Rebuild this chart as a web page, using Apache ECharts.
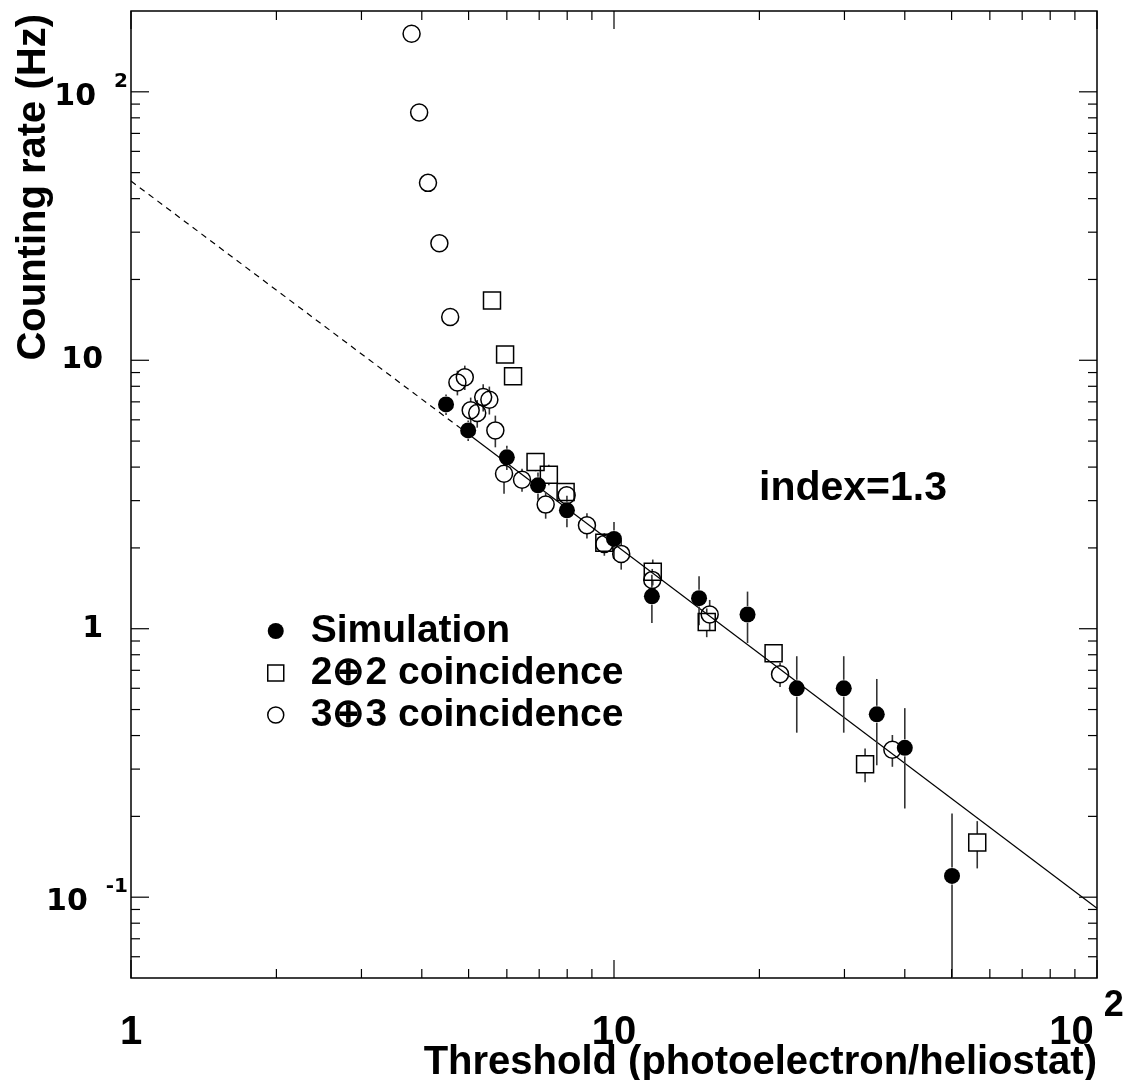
<!DOCTYPE html>
<html><head><meta charset="utf-8">
<script src="https://cdn.jsdelivr.net/npm/echarts@6/dist/echarts.min.js"></script>
<style>html,body{margin:0;padding:0;background:#fff}#c{width:1148px;height:1080px}</style>
</head><body><div id="c"></div>
<script>
// ---- data ----
const simX = [4.49, 4.99, 6.0, 6.96, 7.99, 10.0, 11.98, 15.0, 18.9, 23.9, 29.9, 35.0, 40.0, 50.1];
const simY = [6.85, 5.48, 4.35, 3.42, 2.76, 2.16, 1.32, 1.30, 1.13, 0.60, 0.60, 0.48, 0.36, 0.12];
const simErr = [0.6, 0.48, 0.45, 0.4, 0.37, 0.34, 0.27, 0.27, 0.245, 0.19, 0.19, 0.17, 0.146, 0.085];

const c22X = [5.59, 5.95, 6.18, 6.88, 7.33, 7.94, 9.55, 12.03, 15.56, 21.4, 33.1, 56.5];
const c22Y = [16.7, 10.5, 8.71, 4.18, 3.75, 3.23, 2.09, 1.63, 1.06, 0.81, 0.313, 0.160];
const c22Err = [0.5, 0.35, 0.3, 0.32, 0.33, 0.2, 0.12, 0.18, 0.13, 0.04, 0.045, 0.032];

const c33X = [3.81, 3.95, 4.12, 4.35, 4.58, 4.74, 4.91, 5.05, 5.21, 5.36, 5.52, 5.68, 5.92, 6.45, 7.22, 7.98, 8.79, 9.55, 10.35, 12.0, 15.78, 22.07, 37.7];
const c33Y = [164.6, 83.7, 45.8, 27.3, 14.5, 8.27, 8.65, 6.51, 6.36, 7.29, 7.13, 5.48, 3.78, 3.59, 2.90, 3.14, 2.43, 2.07, 1.90, 1.52, 1.13, 0.677, 0.354];
const c33Err = [1, 0.8, 0.5, 0.4, 1.0, 0.87, 0.9, 0.75, 0.75, 0.85, 0.85, 0.74, 0.6, 0.35, 0.33, 0.25, 0.26, 0.2, 0.24, 0.15, 0.15, 0.07, 0.048];

const fitDashed = [[1, 46.5], [5, 5.3]];
const fitSolid = [[5, 5.3], [100, 0.091]];

const xMin = 1, xMax = 100, yMin = 0.05, yMax = 200;
const xMinorTicks = [2,3,4,5,6,7,8,9,20,30,40,50,60,70,80,90];
const xMajorTicks = [1,10,100];
const yMinorTicks = [0.06,0.07,0.08,0.09,0.2,0.3,0.4,0.5,0.6,0.7,0.8,0.9,2,3,4,5,6,7,8,9,20,30,40,50,60,70,80,90];
const yMajorTicks = [0.1,1,10,100];

const legendNames = ['Simulation', '2\u22952 coincidence', '3\u22953 coincidence'];
const xTitle = 'Threshold (photoelectron/heliostat)';
const yTitle = 'Counting rate (Hz)';
const indexText = 'index=1.3';

// ---- helpers ----
const MARK_R = 8.5;
function isPow10(v){ const e = Math.round(Math.log10(v)); return Math.abs(v/Math.pow(10,e) - 1) < 1e-6 ? e : null; }

function errData(xs, ys, es){ return xs.map((x,i)=>[x, ys[i], es[i]]); }
function errRender(params, api){
  const x = api.value(0), y = api.value(1), e = api.value(2);
  const c = api.coord([x, y]);
  const lo = api.coord([x, Math.max(y - e, yMin)]);
  const hi = api.coord([x, Math.min(y + e, yMax)]);
  const st = {stroke:'#333', lineWidth:1.6};
  const kids = [];
  if (hi[1] < c[1] - MARK_R) kids.push({type:'line', shape:{x1:c[0], y1:c[1] - MARK_R, x2:hi[0], y2:hi[1]}, style:st});
  if (lo[1] > c[1] + MARK_R) kids.push({type:'line', shape:{x1:c[0], y1:c[1] + MARK_R, x2:lo[0], y2:lo[1]}, style:st});
  return {type:'group', children:kids};
}
const tickData = [];
xMinorTicks.forEach(v=>tickData.push([v, yMin, 0]));
xMajorTicks.forEach(v=>tickData.push([v, yMin, 1]));
yMinorTicks.forEach(v=>tickData.push([xMin, v, 2]));
yMajorTicks.forEach(v=>tickData.push([xMin, v, 3]));
function tickRender(params, api){
  const cs = params.coordSys;
  const kind = api.value(2);
  const p = api.coord([api.value(0), api.value(1)]);
  const len = (kind === 1 || kind === 3) ? 18 : 9;
  const st = {stroke:'#000', lineWidth:1.2};
  if (kind < 2) {
    const b = cs.y + cs.height, t = cs.y;
    return {type:'group', children:[
      {type:'line', shape:{x1:p[0], y1:b, x2:p[0], y2:b - len}, style:st},
      {type:'line', shape:{x1:p[0], y1:t, x2:p[0], y2:t + len}, style:st}
    ]};
  } else {
    const l = cs.x, r = cs.x + cs.width;
    return {type:'group', children:[
      {type:'line', shape:{x1:l, y1:p[1], x2:l + len, y2:p[1]}, style:st},
      {type:'line', shape:{x1:r, y1:p[1], x2:r - len, y2:p[1]}, style:st}
    ]};
  }
}

const LS = 'Liberation Sans', DV = 'DejaVu Sans';
const hollow = {color:'rgba(0,0,0,0)', borderColor:'#000', borderWidth:1.5, opacity:1};

const chart = echarts.init(document.getElementById('c'), null, {renderer:'canvas'});
chart.setOption({
  animation:false,
  backgroundColor:'#fff',
  grid:{left:131, right:51, top:11, bottom:102, show:true, borderColor:'#000', borderWidth:1.5, backgroundColor:'transparent'},
  xAxis:{
    type:'log', logBase:10, min:xMin, max:xMax,
    axisLine:{show:false}, axisTick:{show:false}, splitLine:{show:false}, minorTick:{show:false},
    axisLabel:{
      margin:3, showMinLabel:true, showMaxLabel:true,
      formatter:function(v){
        const e = isPow10(v); if (e === null) return '';
        if (e === 0) return '{n|1}';
        if (e === 1) return '{n|10}';
        return '{n|10}{s|' + e + '}';
      },
      rich:{
        n:{fontFamily:LS, fontWeight:'bold', fontSize:40, lineHeight:72, verticalAlign:'bottom', color:'#000'},
        s:{fontFamily:LS, fontWeight:'bold', fontSize:36, lineHeight:40, verticalAlign:'top', padding:[7,21,0,10], color:'#000'}
      }
    }
  },
  yAxis:{
    type:'log', logBase:10, min:yMin, max:yMax,
    axisLine:{show:false}, axisTick:{show:false}, splitLine:{show:false}, minorTick:{show:false},
    axisLabel:{
      margin:3,
      formatter:function(v){
        const e = isPow10(v); if (e === null) return '';
        if (e === 0) return '{p|1}';
        if (e === 1) return '{p|10}';
        return '{n|10}{s|' + e + '}';
      },
      rich:{
        p:{fontFamily:DV, fontWeight:'bold', fontSize:30, padding:[0,25,0,0], color:'#000'},
        n:{fontFamily:DV, fontWeight:'bold', fontSize:30, verticalAlign:'bottom', color:'#000'},
        s:{fontFamily:DV, fontWeight:'bold', fontSize:20, verticalAlign:'top', padding:[0,0,20,18], color:'#000'}
      }
    }
  },
  legend:{
    orient:'vertical', left:267, top:611, padding:0, itemGap:2, itemWidth:16, itemHeight:16,
    selectedMode:false,
    textStyle:{fontFamily:LS, fontWeight:'bold', fontSize:39, lineHeight:40, color:'#000', padding:[0,0,0,22]},
    data:[
      {name:legendNames[0], icon:'circle', itemStyle:{color:'#000', borderWidth:0, opacity:1}},
      {name:legendNames[1], icon:'rect', itemStyle:hollow},
      {name:legendNames[2], icon:'circle', itemStyle:hollow}
    ]
  },
  graphic:[
    {type:'text', x:34, y:14, rotation:Math.PI/2, silent:true,
     style:{text:yTitle, fontFamily:LS, fontWeight:'bold', fontSize:40, fill:'#000', align:'right', verticalAlign:'middle'}},
    {type:'text', x:1097, y:1063, silent:true,
     style:{text:xTitle, fontFamily:LS, fontWeight:'bold', fontSize:40, fill:'#000', align:'right', verticalAlign:'middle'}},
    {type:'text', x:759, y:489, silent:true,
     style:{text:indexText, fontFamily:LS, fontWeight:'bold', fontSize:41, fill:'#000', align:'left', verticalAlign:'middle'}}
  ],
  series:[
    {type:'line', data:fitDashed, symbol:'none', silent:true, z:1,
     lineStyle:{color:'#000', width:1.2, type:[6,5]}},
    {type:'line', data:fitSolid, symbol:'none', silent:true, z:1,
     lineStyle:{color:'#000', width:1.2}},
    {type:'custom', name:'errSim', data:errData(simX, simY, simErr), renderItem:errRender, encode:{x:0, y:1}, silent:true, z:2},
    {type:'custom', name:'err22', data:errData(c22X, c22Y, c22Err), renderItem:errRender, encode:{x:0, y:1}, silent:true, z:2},
    {type:'custom', name:'err33', data:errData(c33X, c33Y, c33Err), renderItem:errRender, encode:{x:0, y:1}, silent:true, z:2},
    {type:'scatter', name:legendNames[1], data:c22X.map((x,i)=>[x, c22Y[i]]), symbol:'rect', symbolSize:17,
     itemStyle:hollow, silent:true, z:3},
    {type:'scatter', name:legendNames[2], data:c33X.map((x,i)=>[x, c33Y[i]]), symbol:'circle', symbolSize:17,
     itemStyle:hollow, silent:true, z:3},
    {type:'scatter', name:legendNames[0], data:simX.map((x,i)=>[x, simY[i]]), symbol:'circle', symbolSize:16,
     itemStyle:{color:'#000', opacity:1}, silent:true, z:4},
    {type:'custom', name:'ticks', data:tickData, renderItem:tickRender, encode:{x:0, y:1}, silent:true, z:5}
  ]
});
</script>
</body></html>
